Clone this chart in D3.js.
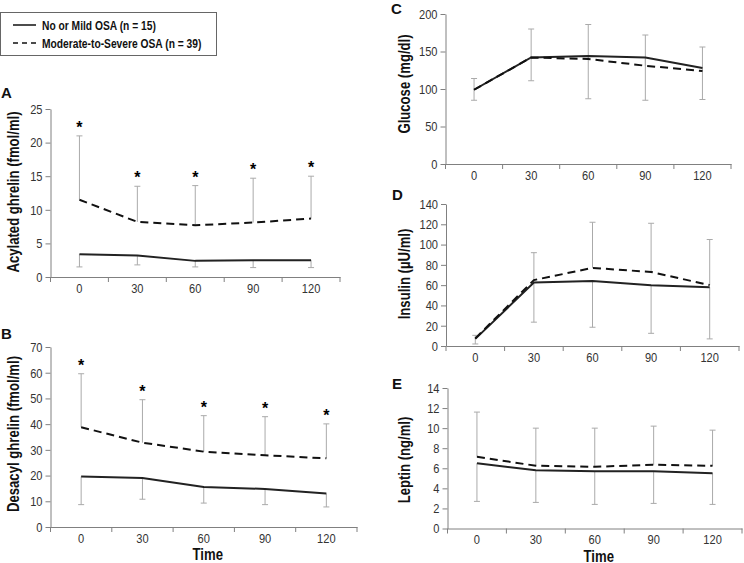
<!DOCTYPE html>
<html>
<head>
<meta charset="utf-8">
<script src="https://cdn.jsdelivr.net/npm/d3@7"></script>
<style>
  body { margin: 0; background: #fff; }
  svg { display: block; }
  .tick text { font-family: "Liberation Sans Narrow", "Liberation Sans", Arial, sans-serif; font-size: 13.5px; fill: #333; }
  .ylab, .xlab, .legend text { font-family: "Liberation Sans Narrow", "Liberation Sans", Arial, sans-serif; font-weight: bold; fill: #111; }
  .letter { font-family: "Liberation Sans", Arial, sans-serif; font-weight: bold; font-size: 15px; fill: #111; }
</style>
</head>
<body>
<div id="chart"></div>
<script>
// time points (min)
var times = ["0", "30", "60", "90", "120"];

// A - acylated ghrelin
var acylMild = [3.4, 3.2, 2.4, 2.5, 2.5];
var acylMildLow = [1.5, 1.8, 1.5, 1.4, 1.4];
var acylMod = [11.5, 8.2, 7.7, 8.1, 8.7];
var acylModHigh = [21.0, 13.5, 13.6, 14.7, 15.0];

// B - desacyl ghrelin
var desMild = [19.6, 19.1, 15.6, 14.8, 13.0];
var desMildLow = [8.7, 10.8, 9.3, 8.7, 7.8];
var desMod = [38.8, 32.8, 29.3, 27.9, 26.7];
var desModHigh = [59.6, 49.5, 43.3, 42.9, 40.1];

// C - glucose
var gluMild = [99, 142, 144, 142, 128];
var gluMildLow = [85, 111, 87, 85, 86];
var gluMod = [99, 142, 140, 131, 124];
var gluModHigh = [114, 180, 186, 172, 156];

// D - insulin
var insMild = [7, 62.5, 64, 60, 58];
var insMildLow = [2, 23.5, 18.5, 12.5, 7];
var insMod = [7.5, 65, 77, 73, 60];
var insModHigh = [10.5, 92, 122, 121, 105];

// E - leptin
var lepMild = [6.5, 5.8, 5.7, 5.7, 5.5];
var lepMildLow = [2.7, 2.6, 2.4, 2.5, 2.4];
var lepMod = [7.15, 6.25, 6.15, 6.35, 6.25];
var lepModHigh = [11.6, 10.0, 10.0, 10.2, 9.8];

var legendLabels = ["No or Mild OSA (n = 15)", "Moderate-to-Severe OSA (n = 39)"];

var svg = d3.select("#chart").append("svg")
    .attr("width", 744)
    .attr("height", 563);

var axisColor = "#808080";

// squeeze text to look like a narrow face (no Arial Narrow here)
function narrow(sel) {
    sel.each(function () {
        var w = this.getComputedTextLength();
        d3.select(this).attr("textLength", w * 0.82).attr("lengthAdjust", "spacingAndGlyphs");
    });
}

var panels = [
    { letter: "A", lx: 1, ly: 98, label: "Acylated ghrelin (fmol/ml)", labX: 19, labY: 192,
      x0: 50.5, x1: 340, y0: 109, y1: 277, ymax: 25, step: 5,
      mild: acylMild, mildLow: acylMildLow, mod: acylMod, modHigh: acylModHigh, stars: true, time: false },
    { letter: "B", lx: 1, ly: 338.5, label: "Desacyl ghrelin (fmol/ml)", labX: 19, labY: 434,
      x0: 50.5, x1: 357, y0: 347, y1: 527, ymax: 70, step: 10,
      mild: desMild, mildLow: desMildLow, mod: desMod, modHigh: desModHigh, stars: true, time: true },
    { letter: "C", lx: 391, ly: 13.5, label: "Glucose (mg/dl)", labX: 410, labY: 84,
      x0: 445.5, x1: 731, y0: 14, y1: 164, ymax: 200, step: 50,
      mild: gluMild, mildLow: gluMildLow, mod: gluMod, modHigh: gluModHigh, stars: false, time: false },
    { letter: "D", lx: 392, ly: 200, label: "Insulin (\u00b5U/ml)", labX: 410, labY: 274,
      x0: 446, x1: 739, y0: 204, y1: 346, ymax: 140, step: 20,
      mild: insMild, mildLow: insMildLow, mod: insMod, modHigh: insModHigh, stars: false, time: false },
    { letter: "E", lx: 392, ly: 388.5, label: "Leptin (ng/ml)", labX: 410, labY: 460,
      x0: 447.5, x1: 742, y0: 388, y1: 528.5, ymax: 14, step: 2,
      mild: lepMild, mildLow: lepMildLow, mod: lepMod, modHigh: lepModHigh, stars: false, time: true }
];

panels.forEach(function (p) {
    var g = svg.append("g");

    var x = d3.scaleBand().domain(times).range([p.x0, p.x1]);
    var y = d3.scaleLinear().domain([0, p.ymax]).range([p.y1, p.y0]);
    var cx = function (i) { return x(times[i]) + x.bandwidth() / 2; };

    // y axis
    var yAxis = g.append("g")
        .attr("transform", "translate(" + p.x0 + ",0)")
        .call(d3.axisLeft(y).tickValues(d3.range(0, p.ymax + p.step / 2, p.step)).tickSize(5).tickSizeOuter(0).tickPadding(3));
    yAxis.selectAll("path, line").attr("stroke", axisColor);
    yAxis.selectAll("text").call(narrow);

    // x axis (labels centred in bands, ticks on band edges)
    var xAxis = g.append("g")
        .attr("transform", "translate(0," + p.y1 + ")")
        .call(d3.axisBottom(x).tickSize(0).tickSizeOuter(0).tickPadding(6));
    xAxis.select("path").attr("stroke", axisColor);
    xAxis.selectAll("text").call(narrow);
    var edges = times.map(function (t) { return x(t); }).concat([p.x1]);
    g.selectAll(".xedge").data(edges).enter().append("line")
        .attr("x1", function (d) { return d; }).attr("x2", function (d) { return d; })
        .attr("y1", p.y1).attr("y2", p.y1 + 5)
        .attr("stroke", axisColor);

    // error bars: moderate-severe upward, mild downward
    var bars = [];
    times.forEach(function (t, i) {
        bars.push({ i: i, a: p.mod[i], b: p.modHigh[i] });
        bars.push({ i: i, a: p.mild[i], b: p.mildLow[i] });
    });
    var eb = g.selectAll(".eb").data(bars).enter().append("g");
    eb.append("line")
        .attr("x1", function (d) { return cx(d.i); }).attr("x2", function (d) { return cx(d.i); })
        .attr("y1", function (d) { return y(d.a); }).attr("y2", function (d) { return y(d.b); })
        .attr("stroke", "#aaa").attr("stroke-width", 1);
    eb.append("line")
        .attr("x1", function (d) { return cx(d.i) - 3; }).attr("x2", function (d) { return cx(d.i) + 3; })
        .attr("y1", function (d) { return y(d.b); }).attr("y2", function (d) { return y(d.b); })
        .attr("stroke", "#aaa").attr("stroke-width", 1);

    var line = d3.line().x(function (d, i) { return cx(i); }).y(function (d) { return y(d); });

    g.append("path").datum(p.mild).attr("d", line)
        .attr("fill", "none").attr("stroke", "#222").attr("stroke-width", 2);
    g.append("path").datum(p.mod).attr("d", line)
        .attr("fill", "none").attr("stroke", "#111").attr("stroke-width", 2)
        .attr("stroke-dasharray", "8,5");

    if (p.stars) {
        g.selectAll(".star").data(p.modHigh).enter().append("text")
            .attr("x", function (d, i) { return cx(i); })
            .attr("y", function (d) { return y(d) - 3; })
            .attr("text-anchor", "middle")
            .style("font-family", "Liberation Sans, Arial, sans-serif")
            .style("font-weight", "bold")
            .style("font-size", "16px")
            .text("*");
    }

    g.append("text").attr("class", "letter").attr("x", p.lx).attr("y", p.ly).text(p.letter);

    g.append("text").attr("class", "ylab")
        .attr("transform", "translate(" + p.labX + "," + p.labY + ") rotate(-90)")
        .attr("text-anchor", "middle")
        .style("font-size", "16px")
        .text(p.label)
        .call(narrow);

    if (p.time) {
        g.append("text").attr("class", "xlab")
            .attr("x", (p.x0 + p.x1) / 2 + 4).attr("y", p.y1 + 33)
            .attr("text-anchor", "middle")
            .style("font-size", "16px")
            .text("Time")
            .call(narrow);
    }
});

// legend
var leg = svg.append("g").attr("class", "legend");
leg.append("rect").attr("x", 0.5).attr("y", 12.5).attr("width", 216).attr("height", 43)
    .attr("fill", "#fff").attr("stroke", "#666");
leg.append("line").attr("x1", 13).attr("x2", 36).attr("y1", 25).attr("y2", 25)
    .attr("stroke", "#111").attr("stroke-width", 1.5);
leg.append("line").attr("x1", 13).attr("x2", 36).attr("y1", 43).attr("y2", 43)
    .attr("stroke", "#111").attr("stroke-width", 1.5).attr("stroke-dasharray", "5,4");
leg.selectAll("text").data(legendLabels).enter().append("text")
    .attr("x", 42).attr("y", function (d, i) { return 29.5 + i * 18; })
    .style("font-size", "12.5px")
    .text(function (d) { return d; })
    .call(narrow);
</script>
</body>
</html>
